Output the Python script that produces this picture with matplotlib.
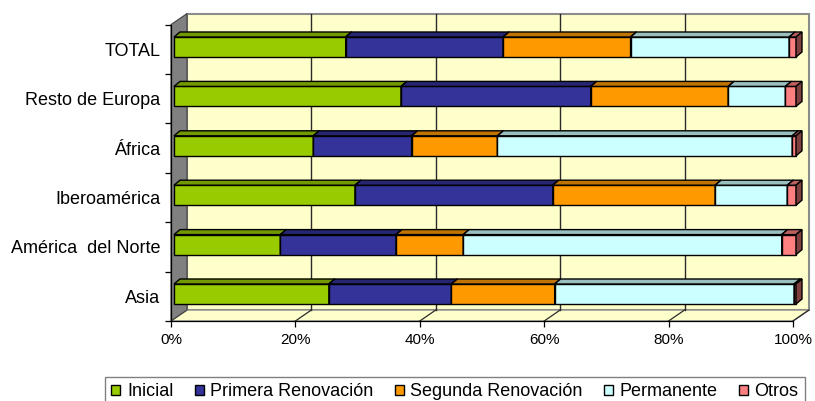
import matplotlib
matplotlib.use('Agg')
import matplotlib.pyplot as plt
from matplotlib.patches import Polygon, Rectangle, Patch
import numpy as np

# ---------------- data ----------------
categories = ['Asia', 'América  del Norte', 'Iberoamérica', 'África', 'Resto de Europa', 'TOTAL']
series_names = ['Inicial', 'Primera Renovación', 'Segunda Renovación', 'Permanente', 'Otros']
inicial    = [24.9, 17.1, 29.1, 22.4, 36.5, 27.6]
primera    = [19.7, 18.6, 31.8, 15.8, 30.5, 25.3]
segunda    = [16.6, 10.8, 26.1, 13.8, 22.1, 20.5]
permanente = [38.5, 51.2, 11.6, 47.4, 9.2, 25.5]
otros      = [0.3, 2.3, 1.4, 0.6, 1.7, 1.1]
x_ticks = [0, 20, 40, 60, 80, 100]
x_tick_labels = ['0%', '20%', '40%', '60%', '80%', '100%']

# ---------------- style ----------------
front_colors = ['#99CC00', '#333399', '#FF9900', '#CCFFFF', '#FF8080']
plt.rcParams['font.family'] = ['Liberation Sans', 'DejaVu Sans']

W, H = 815, 401
fig = plt.figure(figsize=(W / 100, H / 100), dpi=100)
ax_left_px, ax_right_px = 171, 793
ax_floor_px, ax_top_px = 321, 24.6
ax = fig.add_axes([ax_left_px / W, (H - ax_floor_px) / H,
                   (ax_right_px - ax_left_px) / W, (ax_floor_px - ax_top_px) / H])
ax.set_xlim(0, 100)
ax.set_ylim(-0.5, len(categories) - 0.5)
ax.patch.set_visible(False)

# pixel -> data unit helpers
px_x = (ax_right_px - ax_left_px) / 100.0
px_y = (ax_floor_px - ax_top_px) / len(categories)


def off(dx_px, dy_px):
    return dx_px / px_x, dy_px / px_y


Bx, By = off(16, 11)      # back wall depth
bx, by = off(3, 2.3)      # bar plane offset
dx, dy = off(6, 5)        # bar depth
y0, y1 = -0.5, len(categories) - 0.5

# walls
ax.add_patch(Rectangle((Bx, y0 + By), 100, y1 - y0, facecolor='#FFFFCC',
                       edgecolor='#8c8c8c', lw=1.5, zorder=0.5, clip_on=False))
ax.add_patch(Polygon([(0, y0), (100, y0), (100 + Bx, y0 + By), (Bx, y0 + By)],
                     closed=True, facecolor='#FFFFCC', edgecolor='#8c8c8c', lw=1.0,
                     zorder=0.6, clip_on=False))
ax.add_patch(Polygon([(0, y0), (Bx, y0 + By), (Bx, y1 + By), (0, y1)],
                     closed=True, facecolor='#808080', edgecolor='#404040', lw=0.8,
                     zorder=0.7, clip_on=False))
for xt in x_ticks[1:-1]:
    ax.plot([xt + Bx, xt + Bx], [y0 + By, y1 + By], color='#2a2a2a', lw=1.0,
            zorder=0.8, clip_on=False)
for xt in x_ticks[1:]:
    ax.plot([xt, xt + Bx], [y0, y0 + By], color='#2a2a2a', lw=0.9,
            zorder=0.8, clip_on=False)

# bars
series = [inicial, primera, segunda, permanente, otros]
ypos = np.arange(len(categories))
h = 0.405


def shade(hexcol, f):
    r, g, b = matplotlib.colors.to_rgb(hexcol)
    return (r * f, g * f, b * f)


lefts = np.zeros(len(categories))
for j, (vals, col) in enumerate(zip(series, front_colors)):
    vals = np.array(vals)
    z = 3 + 0.1 * j
    ax.barh(ypos + by, vals, left=lefts + bx, height=h, color=col,
            edgecolor='black', lw=1.0, zorder=z, clip_on=False)
    for i in range(len(categories)):
        L = lefts[i] + bx
        R = L + vals[i]
        yt = ypos[i] + by + h / 2
        yb = ypos[i] + by - h / 2
        ax.add_patch(Polygon([(L, yt), (R, yt), (R + dx, yt + dy), (L + dx, yt + dy)],
                             closed=True, facecolor=shade(col, 0.75), edgecolor='black',
                             lw=1.0, zorder=z, clip_on=False))
        ax.add_patch(Polygon([(R, yb), (R, yt), (R + dx, yt + dy), (R + dx, yb + dy)],
                             closed=True, facecolor=shade(col, 0.5), edgecolor='black',
                             lw=1.0, zorder=z, clip_on=False))
    lefts = lefts + vals

# axes
for s in ['top', 'right']:
    ax.spines[s].set_visible(False)
for s in ['left', 'bottom']:
    ax.spines[s].set_color('black')
    ax.spines[s].set_linewidth(0.9)
    ax.spines[s].set_zorder(5)
ax.set_xticks(x_ticks)
ax.set_xticklabels(x_tick_labels, fontsize=11)
ax.tick_params(axis='x', direction='out', length=4, width=0.9, pad=4.5)
ax.set_yticks(ypos)
ax.set_yticklabels(categories, fontsize=13)
ax.tick_params(axis='y', which='major', length=0, pad=7.5)
ax.set_yticks(np.arange(y0, y1 + 0.01, 1.0), minor=True)
ax.tick_params(axis='y', which='minor', direction='out', length=4, width=0.9)

# legend
handles = [Patch(facecolor=c, edgecolor='black', lw=1.0) for c in front_colors]
fig.legend(handles=handles, labels=series_names, loc='upper left',
           bbox_to_anchor=(105 / W, 1 - 377 / H), ncol=5, frameon=True,
           fancybox=False, edgecolor='#808080', framealpha=1, fontsize=13,
           handlelength=0.5, handleheight=0.5, handletextpad=0.38,
           columnspacing=1.16, borderpad=0.35, borderaxespad=0)

fig.savefig('out.png', dpi=100)
